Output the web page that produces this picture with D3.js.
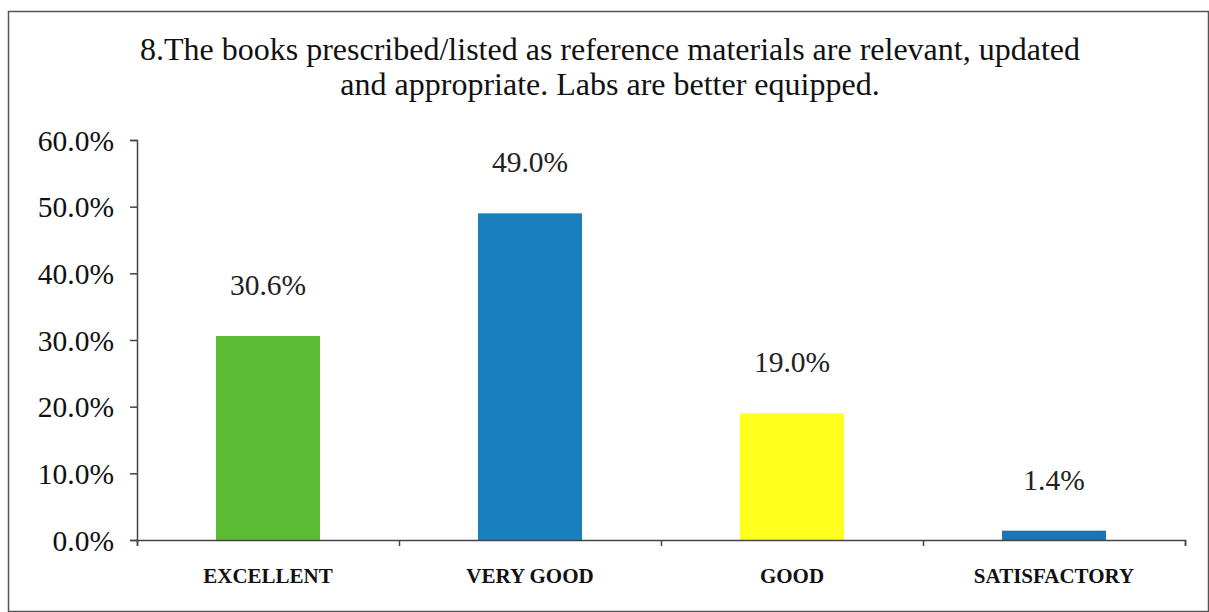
<!DOCTYPE html>
<html>
<head>
<meta charset="utf-8">
<script src="https://cdn.jsdelivr.net/npm/d3@7"></script>
<style>
  body { margin: 0; background: #fff; }
  svg { display: block; }
  svg text { font-family: "Times New Roman", "Liberation Serif", "DejaVu Serif", serif; }
</style>
</head>
<body>
<div id="chart"></div>
<script>
// datos del gráfico
const categorias = ["EXCELLENT", "VERY GOOD", "GOOD", "SATISFACTORY"];
const valores = [30.6, 49.0, 19.0, 1.4];
const colores = ["#5bbb34", "#1a80bd", "#ffff1c", "#1d74b3"];
const ticksY = [0, 10, 20, 30, 40, 50, 60];
const titulo = [
  "8.The books prescribed/listed as reference materials are relevant, updated",
  "and appropriate. Labs are better equipped."
];

const W = 1209, H = 612;

const svg = d3.select("#chart").append("svg")
  .attr("width", W)
  .attr("height", H);

// marco exterior
svg.append("rect")
  .attr("x", 8.5).attr("y", 11.5)
  .attr("width", 1200).attr("height", 600)
  .attr("fill", "none")
  .attr("stroke", "#555")
  .attr("stroke-width", 1.5);

// título
svg.append("g").selectAll("text")
  .data(titulo)
  .enter().append("text")
  .attr("x", 610)
  .attr("y", (d, i) => 60 + i * 35)
  .attr("text-anchor", "middle")
  .attr("font-size", "32px")
  .attr("fill", "#111")
  .text(d => d);

const x = d3.scaleBand()
  .domain(categorias)
  .range([137, 1185])
  .paddingInner(0.603)
  .paddingOuter(0.3015);

const y = d3.scaleLinear()
  .domain([0, 60])
  .range([540, 140]);

// barras
svg.append("g").selectAll("rect")
  .data(valores)
  .enter().append("rect")
  .attr("x", (d, i) => x(categorias[i]))
  .attr("y", d => y(d))
  .attr("width", x.bandwidth())
  .attr("height", d => y(0) - y(d))
  .attr("fill", (d, i) => colores[i]);

// etiquetas de valor
svg.append("g").selectAll("text")
  .data(valores)
  .enter().append("text")
  .attr("x", (d, i) => x(categorias[i]) + x.bandwidth() / 2)
  .attr("y", d => y(d) - 41)
  .attr("text-anchor", "middle")
  .attr("font-size", "29.5px")
  .attr("fill", "#222")
  .text(d => d.toFixed(1) + "%");

// eje Y
const ejeY = d3.axisLeft(y)
  .tickValues(ticksY)
  .tickSize(7)
  .tickPadding(16)
  .tickFormat(d => d.toFixed(1) + "%");

const gY = svg.append("g")
  .attr("transform", "translate(137,0)")
  .call(ejeY);
gY.attr("font-family", null);
gY.select(".domain").attr("stroke", "#444").attr("stroke-width", 1.5);
gY.selectAll(".tick line").attr("stroke", "#444").attr("stroke-width", 1.5);
gY.selectAll(".tick text")
  .attr("font-size", "29.5px")
  .attr("fill", "#111")
  .attr("dy", "0.35em");

// eje X: marcas en los límites de cada categoría
const limites = d3.scaleLinear().domain([0, categorias.length]).range([137, 1185]);
const ejeX = d3.axisBottom(limites)
  .tickValues(d3.range(categorias.length + 1))
  .tickSize(6)
  .tickFormat("");

const gX = svg.append("g")
  .attr("transform", "translate(0,540)")
  .call(ejeX);
gX.select(".domain").attr("stroke", "#444").attr("stroke-width", 1.5);
gX.selectAll(".tick line").attr("stroke", "#444").attr("stroke-width", 1.5);

// etiquetas de categoría
svg.append("g").selectAll("text")
  .data(categorias)
  .enter().append("text")
  .attr("x", d => x(d) + x.bandwidth() / 2)
  .attr("y", 583)
  .attr("text-anchor", "middle")
  .attr("font-weight", "bold")
  .attr("font-size", "21px")
  .attr("fill", "#111")
  .text(d => d);
</script>
</body>
</html>
